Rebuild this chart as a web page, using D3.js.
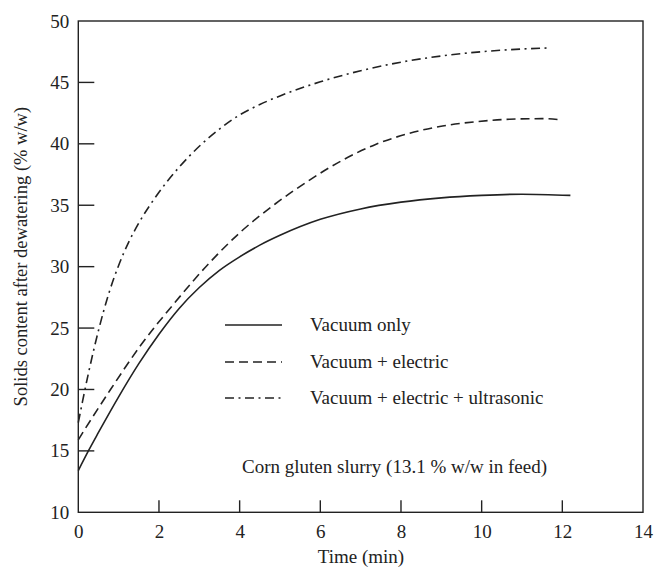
<!DOCTYPE html>
<html><head><meta charset="utf-8">
<script src="https://cdn.jsdelivr.net/npm/d3@7"></script>
<style>body{margin:0;background:#fff}svg{display:block}text{font-family:"Liberation Serif","DejaVu Serif",serif;fill:#222}</style>
</head><body><svg id="c" width="657" height="570"></svg>
<script>
const xTicks = [0, 2, 4, 6, 8, 10, 12, 14];
const yTicks = [10, 15, 20, 25, 30, 35, 40, 45, 50];
const seriesNames = ["Vacuum only", "Vacuum + electric", "Vacuum + electric + ultrasonic"];
const vacuumX = [0, 0.25, 0.5, 1, 1.5, 2, 2.5, 3, 3.5, 4, 4.5, 5, 6, 7, 8, 9, 10, 11, 12.2];
const vacuumY = [13.4, 15.0, 16.5, 19.4, 22.1, 24.5, 26.6, 28.3, 29.7, 30.8, 31.75, 32.55, 33.85, 34.7, 35.25, 35.6, 35.8, 35.9, 35.8];
const electricX = [0, 0.17, 0.74, 1.57, 2.4, 3.22, 4.05, 4.88, 5.71, 6.54, 7.37, 8.2, 9.03, 9.86, 10.69, 11.5, 12.0];
const electricY = [15.9, 16.8, 19.7, 23.7, 27.1, 30.2, 32.9, 35.1, 37.0, 38.65, 39.95, 40.85, 41.45, 41.8, 42.0, 42.05, 41.95];
const ultraX = [0, 0.1, 0.25, 0.5, 0.75, 1, 1.25, 1.5, 2, 2.5, 3, 3.5, 4, 4.5, 5, 6, 7, 8, 9, 10, 11, 11.65];
const ultraY = [17.3, 18.95, 21.3, 24.8, 27.75, 30.1, 32.0, 33.55, 36.05, 38.1, 39.8, 41.2, 42.35, 43.2, 43.9, 45.05, 45.95, 46.65, 47.15, 47.5, 47.72, 47.8];
const annotation = "Corn gluten slurry (13.1 % w/w in feed)";
const xLabel = "Time (min)";
const yLabel = "Solids content after dewatering (% w/w)";

const svg = d3.select("#c");
const x = d3.scaleLinear().domain([0, 14]).range([78.3, 643]);
const y = d3.scaleLinear().domain([10, 50]).range([512.3, 21]);
const dashes = [null, "9,5", "9,4.5,2,4.5"];
const series = [[vacuumX, vacuumY], [electricX, electricY], [ultraX, ultraY]];
const FS = 19;

// frame
svg.append("rect").attr("x", x(0)).attr("y", y(50)).attr("width", x(14) - x(0)).attr("height", y(10) - y(50))
  .attr("fill", "none").attr("stroke", "#222").attr("stroke-width", 1.4);

// x axis
const xa = svg.append("g").attr("transform", `translate(0,${y(10)})`)
  .call(d3.axisBottom(x).tickValues(xTicks).tickSize(0).tickPadding(12).tickFormat(d3.format("d")));
xa.select(".domain").remove();
xa.selectAll("text").attr("font-size", FS).style("font-family", '"Liberation Serif",serif').attr("fill", "#222");
svg.append("g").selectAll("line").data(xTicks.slice(1, -1)).join("line")
  .attr("x1", d => x(d)).attr("x2", d => x(d)).attr("y1", y(10)).attr("y2", y(10) - 12)
  .attr("stroke", "#222").attr("stroke-width", 1.4);

// y axis
const ya = svg.append("g").attr("transform", `translate(${x(0)},0)`)
  .call(d3.axisLeft(y).tickValues(yTicks).tickSize(0).tickPadding(9).tickFormat(d3.format("d")));
ya.select(".domain").remove();
ya.selectAll("text").attr("font-size", FS).style("font-family", '"Liberation Serif",serif').attr("fill", "#222");
svg.append("g").selectAll("line").data(yTicks.slice(1, -1)).join("line")
  .attr("x1", x(0)).attr("x2", x(0) + 16).attr("y1", d => y(d)).attr("y2", d => y(d))
  .attr("stroke", "#222").attr("stroke-width", 1.4);

// labels
svg.append("text").attr("x", 361).attr("y", 563).attr("text-anchor", "middle")
  .attr("font-size", FS).text(xLabel);
svg.append("text").attr("transform", `translate(27,${(y(10) + y(50)) / 2 - 10}) rotate(-90)`)
  .attr("text-anchor", "middle").attr("font-size", 18.5).text(yLabel);

// curves
const line = d3.line().curve(d3.curveMonotoneX).x(d => x(d[0])).y(d => y(d[1]));
series.forEach((s, i) => {
  const pts = s[0].map((v, j) => [v, s[1][j]]);
  svg.append("path").attr("d", line(pts)).attr("fill", "none").attr("stroke", "#222")
    .attr("stroke-width", 1.6).attr("stroke-dasharray", dashes[i]);
});

// legend
const ly = [325, 362, 398];
seriesNames.forEach((n, i) => {
  svg.append("line").attr("x1", 225).attr("x2", 282).attr("y1", ly[i]).attr("y2", ly[i])
    .attr("stroke", "#222").attr("stroke-width", 1.4).attr("stroke-dasharray", dashes[i]);
  svg.append("text").attr("x", 310).attr("y", ly[i] + 6).attr("font-size", FS).text(n);
});
svg.append("text").attr("x", 242).attr("y", 473).attr("font-size", FS).text(annotation);
</script></body></html>
